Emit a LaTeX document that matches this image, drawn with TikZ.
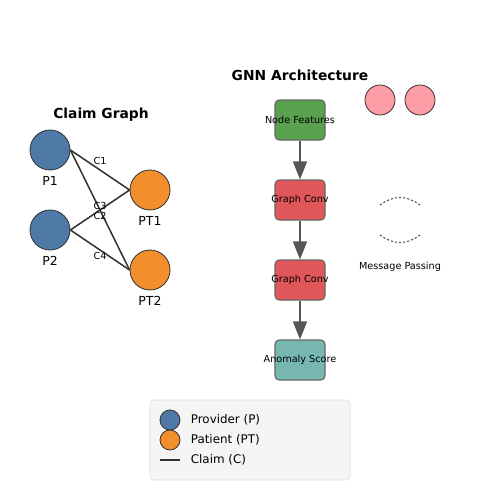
\documentclass[tikz,border=0pt]{standalone}
\usepackage{fontspec}
\setmainfont{DejaVu Sans}
\usetikzlibrary{arrows.meta}
\definecolor{provblue}{HTML}{4E79A7}
\definecolor{patorange}{HTML}{F28E2B}
\definecolor{featgreen}{HTML}{59A14F}
\definecolor{convred}{HTML}{E15759}
\definecolor{scoreteal}{HTML}{76B7B2}
\definecolor{msgpink}{HTML}{FF9DA7}
\definecolor{edgegray}{HTML}{333333}
\definecolor{flowgray}{HTML}{555555}
\definecolor{legfill}{HTML}{F5F5F5}
\newcommand{\boxtext}[1]{\makebox[0pt]{#1}}
\tikzset{
  entity/.style={circle, draw=edgegray, line width=0.6pt, minimum size=#1*0.0254cm, inner sep=0pt},
  layerbox/.style={draw=black!60, line width=0.8pt, rounded corners=3pt, minimum width=50*0.0254cm, minimum height=40*0.0254cm, inner sep=0pt, font=\fontsize{7}{8}\selectfont},
  claim/.style={draw=edgegray, line width=1.1pt},
  flow/.style={draw=flowgray, line width=1.5pt, -{Triangle[width=10pt,length=13pt]}},
  small/.style={font=\fontsize{7}{8}\selectfont},
  lbl/.style={font=\fontsize{9}{10}\selectfont}
}
\begin{document}
\begin{tikzpicture}[x=0.0254cm, y=-0.0254cm]
			%%%%% START %%%%%
			\useasboundingbox[fill=white] (0, 0) rectangle (500, 500);
			
			% claim graph
			\node[font=\fontsize{10}{12}\selectfont\bfseries] (cgtitle) at (101, 115) {Claim Graph};
			\node[entity=40, fill=provblue] (p1) at (50, 150) {};
			\node[entity=40, fill=provblue] (p2) at (50, 230) {};
			\node[entity=40, fill=patorange] (pt1) at (150, 190) {};
			\node[entity=40, fill=patorange] (pt2) at (150, 270) {};
			\node[lbl] (p1lbl) at (50, 181) {P1};
			\node[lbl] (p2lbl) at (50, 261) {P2};
			\node[lbl] (pt1lbl) at (150, 221) {PT1};
			\node[lbl] (pt2lbl) at (150, 301) {PT2};
			
			\draw[claim] (p1.east) -- (pt1.west);
			\draw[claim] (p1.east) -- (pt2.west);
			\draw[claim] (p2.east) -- (pt1.west);
			\draw[claim] (p2.east) -- (pt2.west);
			\node[small] (c1) at (100, 161) {C1};
			\node[small] (c3) at (100, 206) {C3};
			\node[small] (c2) at (100, 216) {C2};
			\node[small] (c4) at (100, 256) {C4};
			
			% gnn architecture
			\node[font=\fontsize{10}{12}\selectfont\bfseries] (gnntitle) at (300, 75) {GNN Architecture};
			\node[layerbox, fill=featgreen] (feat) at (300, 120) {\boxtext{Node Features}};
			\node[layerbox, fill=convred] (conv1) at (300, 200) {\boxtext{Graph Conv}};
			\node[layerbox, fill=convred] (conv2) at (300, 280) {\boxtext{Graph Conv}};
			\node[layerbox, fill=scoreteal] (score) at (300, 360) {\boxtext{Anomaly Score}};
			\draw[flow] (feat) -- (conv1);
			\draw[flow] (conv1) -- (conv2);
			\draw[flow] (conv2) -- (score);
			
			% message passing
			\node[entity=30, fill=msgpink] (m1) at (380, 100) {};
			\node[entity=30, fill=msgpink] (m2) at (420, 100) {};
			\coordinate (ua) at (380, 205);
			\coordinate (ub) at (420, 205);
			\coordinate (la) at (380, 235);
			\coordinate (lb) at (420, 235);
			\draw[flowgray, line width=0.8pt, dash pattern=on 1.5pt off 1.5pt] (ua) .. controls (393, 195) and (407, 195) .. (ub);
			\draw[flowgray, line width=0.8pt, dash pattern=on 1.5pt off 1.5pt] (la) .. controls (393, 245) and (407, 245) .. (lb);
			\node[small] (msglbl) at (400, 267) {Message Passing};
			
			% legend
			\draw[draw=black!15, fill=legfill, rounded corners=3pt] (150, 400) rectangle (350, 480);
			\node[entity=20, fill=provblue] (legp) at (170, 420) {};
			\node[entity=20, fill=patorange] (legpt) at (170, 440) {};
			\coordinate (legca) at (160, 460);
			\coordinate (legcb) at (180, 460);
			\draw[claim] (legca) -- (legcb);
			\node[lbl, anchor=west, font=\fontsize{8.6}{10}\selectfont] (legptxt) at (186, 420) {Provider (P)};
			\node[lbl, anchor=west, font=\fontsize{8.6}{10}\selectfont] (legpttxt) at (186, 440) {Patient (PT)};
			\node[lbl, anchor=west, font=\fontsize{8.6}{10}\selectfont] (legctxt) at (186, 460) {Claim (C)};
			%%%%% END %%%%%
\end{tikzpicture}
\end{document}
